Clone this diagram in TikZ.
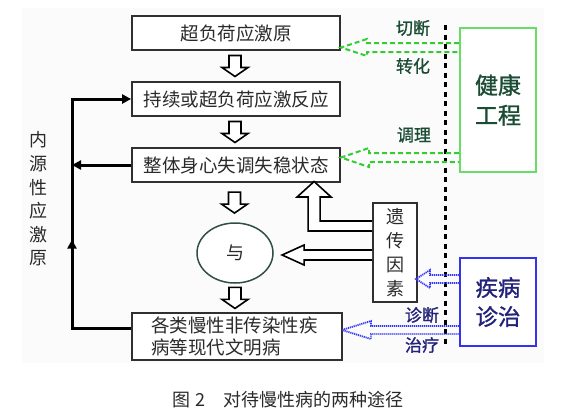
\documentclass[tikz,border=0pt]{standalone}
\usepackage{fontspec}
\setmainfont{Noto Sans CJK SC}
\newfontfamily\boldish[FakeBold=1.2]{Noto Sans CJK SC}
\usetikzlibrary{arrows.meta,shapes.geometric,calc,decorations.markings}
\definecolor{boxc}{HTML}{303030}
\definecolor{txtc}{HTML}{2A2A2A}
\definecolor{gline}{HTML}{33CC33}
\definecolor{gbox}{HTML}{66DD66}
\definecolor{gtxt}{HTML}{1B4D35}
\definecolor{bline}{HTML}{3838F8}
\definecolor{bbox}{HTML}{3333EE}
\definecolor{btxt}{HTML}{22227A}
\definecolor{ellc}{HTML}{2F4F45}
\definecolor{bgc}{HTML}{FBFBFB}
\begin{document}
\begin{tikzpicture}[x=1pt,y=-1pt,
  box/.style={draw=boxc,line width=1.8pt,fill=white,minimum width=208pt,minimum height=34pt,inner sep=0pt,text=txtc,font=\fontsize{18.5}{21.5}\selectfont},
  hol/.style={draw=black,line width=1.6pt,fill=white,line join=miter},
  fb/.style={draw=black,line width=3pt},
  tipA/.style={-{Triangle[length=9pt,width=9pt]}},
  gdash/.style={draw=gline,line width=2pt,dash pattern=on 5pt off 3pt},
  bdot/.style={draw=bline,line width=1.8pt,dash pattern=on 1.2pt off 0.8pt},
  glab/.style={text=gtxt,font=\boldish\fontsize{17}{17}\selectfont},
  blab/.style={text=btxt,font=\boldish\fontsize{17}{17}\selectfont},
  downarr/.pic={\draw[hol] (-6,0)--(-6,12)--(-13,12)--(0,21)--(13,12)--(6,12)--(6,0)--cycle;}
]
\useasboundingbox (0,0) rectangle (576,416);
\fill[white] (0,0) rectangle (576,416);
\fill[bgc] (22,8) rectangle (544,363);

% main boxes
\node[box] (b1) at (236,33) {超负荷应激原};
\node[box] (b2) at (236,99) {持续或超负荷应激反应};
\node[box] (b3) at (236,165) {整体身心失调失稳状态};
\node[ellipse,draw=ellc,line width=1.5pt,fill=white,minimum width=76pt,minimum height=60pt,inner sep=0pt,text=txtc,font=\fontsize{18}{18}\selectfont] (yu) at (235,253) {与};
\node[box,minimum width=210pt,minimum height=47pt,text width=172pt,align=left] (b4) at (237,336.5) {各类慢性非传染性疾\\病等现代文明病};

% hollow down arrows
\path ($(b1.south)!0.5!(b2.north)+(-1,-10.5)$) pic {downarr};
\path ($(b2.south)!0.5!(b3.north)+(-1,-10.5)$) pic {downarr};
\path ($(b3.south)!0.5!(yu.north)+(-1,-10.5)$) pic {downarr};
\path ($(yu.south)!0.5!(b4.north)+(-1,-10.5)$) pic {downarr};

% left text
\node[text=txtc,align=center,font=\fontsize{18}{23.6}\selectfont] (nei) at (38,199) {内\\源\\性\\应\\激\\原};

% feedback line
\coordinate (lc) at (72,99);
\draw[fb,tipA,postaction={decorate},decoration={markings,mark=at position 148pt with {\arrow{Triangle[length=9pt,width=9pt]}}}]
  ([yshift=8pt]b4.west) -| (lc) -- (b2.west);
\draw[fb,tipA] (b3.west) -- (b3.west -| lc);

% genetic factor box
\node[draw=boxc,line width=1.8pt,fill=white,minimum width=44pt,minimum height=99pt,inner sep=0pt,text=txtc,align=center,font=\fontsize{18}{24}\selectfont] (gene) at (395,252.5) {遗\\传\\因\\素};
\draw[hol] ([yshift=31.5pt]gene.west) -- ++(-52,0) -- ++(0,-24) -- ++(11,0) -- ++(-17,-15.5) -- ++(-17,15.5) -- ++(11,0) -- ++(0,34) -- ++(64,0);
\draw[hol] ([yshift=2.5pt]gene.west) -- ++(-68,0) -- ++(0,-5) -- ++(-22,10) -- ++(22,10) -- ++(0,-5) -- ++(68,0);

% vertical dashed separator
\coordinate (vt) at (445,25);
\coordinate (vb) at (445,347);
\draw[black,line width=3pt,dash pattern=on 5pt off 4.5pt] (vt) -- (vb);

% right boxes
\node[draw=gbox,line width=2pt,fill=white,minimum width=76pt,minimum height=144pt,inner sep=0pt,text=gtxt,align=center,font=\boldish\fontsize{23}{30}\selectfont] (green) at (498,100) {健康\\工程};
\node[draw=bbox,line width=2pt,fill=white,minimum width=76pt,minimum height=88pt,inner sep=0pt,text=btxt,align=center,font=\boldish\fontsize{22.5}{29}\selectfont] (blue) at (498,302) {疾病\\诊治};

% green dashed hollow arrows
\draw[gdash] ([yshift=57pt]green.west) -- ++(-92,0) -- ++(0,-4) -- ++(-26,8.5) -- ++(26,8.5) -- ++(0,-4) -- ++(92,0);
\draw[gdash] ([yshift=-53pt]green.west) -- ++(-90,0) -- ++(0,-5) -- ++(-28,9.5) -- ++(28,9.5) -- ++(0,-5) -- ++(90,0);

% blue dotted hollow arrows
\draw[bdot] ([yshift=27pt]blue.west) -- ++(-29,0) -- ++(0,-5) -- ++(-14,9) -- ++(14,9) -- ++(0,-5) -- ++(29,0);
\draw[bdot] ([yshift=-24pt]blue.west) -- ++(-88,0) -- ++(0,-5) -- ++(-29,9) -- ++(29,9) -- ++(0,-5) -- ++(88,0);

% labels
\node[glab] (l1) at (413,28) {切断};
\node[glab] (l2) at (413,66) {转化};
\node[glab] (l3) at (414,135) {调理};
\node[blab] (l4) at (422,315) {诊断};
\node[blab] (l5) at (422,345) {治疗};

% caption
\node[text=txtc,font=\fontsize{18}{18}\selectfont] (cap) at (288,400) {图 2\hspace{1em}对待慢性病的两种途径};
\end{tikzpicture}
\end{document}
